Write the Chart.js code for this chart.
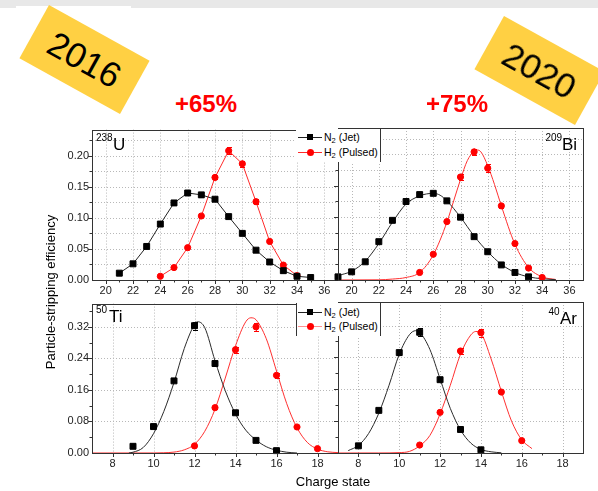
<!DOCTYPE html>
<html>
<head>
<meta charset="utf-8">
<script src="https://cdn.jsdelivr.net/npm/chart.js@4.4.1/dist/chart.umd.min.js"></script>
<style>
  html, body { margin: 0; padding: 0; background: #fff; }
  body { width: 598px; height: 491px; position: relative; overflow: hidden;
         font-family: "Liberation Sans", Arial, sans-serif; color: #000; }
  canvas { position: absolute; }
  .topband { position: absolute; left: 0; top: 0; width: 598px; height: 8px; background: #e8e8e8; }
  .notch { position: absolute; left: 16px; top: 6px; width: 115px; height: 3px; background: #fff; }
  .sticker { position: absolute; width: 115px; height: 61px; background: #ffd043;
             transform: rotate(29deg); display: flex; align-items: center; justify-content: center;
             font-size: 35px; line-height: 1; z-index: 5; }
  .gain { position: absolute; color: #ff0000; font-weight: bold; font-size: 24px; line-height: 1;
          transform: translateX(-50%); white-space: nowrap; }
  .mass { position: absolute; font-size: 10px; line-height: 1; z-index: 3; }
  .el { position: absolute; font-size: 17px; line-height: 1; z-index: 3; }
  .legend { position: absolute; background: #fff; z-index: 2; box-sizing: border-box; }
  .lrow { position: absolute; left: 0; width: 84px; height: 14px; }
  .lline { position: absolute; left: 2px; top: 7px; width: 24px; height: 1px; }
  .lsq { position: absolute; left: 11px; top: 4px; width: 6px; height: 6px; background: #000; }
  .ldot { position: absolute; left: 11px; top: 4px; width: 7px; height: 7px; border-radius: 50%; background: #ff0000; }
  .ltxt { position: absolute; left: 28px; top: 0; font-size: 10.5px; line-height: 14px; white-space: nowrap; }
  .ltxt sub { font-size: 7.5px; vertical-align: -2px; line-height: 0; }
  .axtitle { position: absolute; font-size: 13px; line-height: 1; white-space: nowrap; }
</style>
</head>
<body>
<div class="topband"></div>
<div class="notch"></div>

<canvas id="cU" width="345" height="182" style="left:0px;top:120px"></canvas>
<canvas id="cBi" width="268" height="182" style="left:330px;top:120px"></canvas>
<canvas id="cTi" width="345" height="181" style="left:0px;top:294px"></canvas>
<canvas id="cAr" width="268" height="181" style="left:330px;top:294px"></canvas>

<div class="sticker" style="left:26.5px;top:29px">2016</div>
<div class="sticker" style="left:482px;top:40px">2020</div>

<div class="gain" style="left:206px;top:92px">+65%</div>
<div class="gain" style="left:457px;top:92px">+75%</div>

<div class="mass" style="left:96px;top:133px">238</div><div class="el" style="left:113px;top:135.5px">U</div>
<div class="mass" style="left:545.5px;top:132.7px">209</div><div class="el" style="left:562px;top:135.5px">Bi</div>
<div class="mass" style="left:96px;top:305.4px">50</div><div class="el" style="left:109px;top:307.8px">Ti</div>
<div class="mass" style="left:548.5px;top:306.7px">40</div><div class="el" style="left:560px;top:309.5px">Ar</div>

<div class="legend" style="left:296px;top:129px;width:85px;height:33px;border-right:1px solid #333;">
  <div class="lrow" style="top:1px"><span class="lline" style="background:#222"></span><span class="lsq"></span><span class="ltxt">N<sub>2</sub> (Jet)</span></div>
  <div class="lrow" style="top:16px"><span class="lline" style="background:#ff2a2a"></span><span class="ldot"></span><span class="ltxt">H<sub>2</sub> (Pulsed)</span></div>
</div>
<div class="legend" style="left:296px;top:303px;width:85px;height:33px;border-left:1px solid #333;border-right:1px solid #333;">
  <div class="lrow" style="top:2px"><span class="lline" style="background:#222;left:1px"></span><span class="lsq" style="left:10px"></span><span class="ltxt" style="left:27px">N<sub>2</sub> (Jet)</span></div>
  <div class="lrow" style="top:16px"><span class="lline" style="background:#ff9090;left:1px"></span><span class="ldot" style="left:10px"></span><span class="ltxt" style="left:27px">H<sub>2</sub> (Pulsed)</span></div>
</div>

<div class="axtitle" style="left:50px;top:292px;transform:translate(-50%,-50%) rotate(-90deg);">Particle-stripping efficiency</div>
<div class="axtitle" style="left:333px;top:481px;transform:translate(-50%,-50%);">Charge state</div>

<script>
// ---- axis ticks ----
const xTicksTop = [20, 22, 24, 26, 28, 30, 32, 34, 36];
const xTicksBottom = [8, 10, 12, 14, 16, 18];
const yTicksTop = [0, 0.05, 0.10, 0.15, 0.20];
const yTicksBottom = [0, 0.08, 0.16, 0.24, 0.32];

// ---- 238U ----
const uJetCharge = [21, 22, 23, 24, 25, 26, 27, 28, 29, 30, 31, 32, 33, 34, 35];
const uJet       = [0.011, 0.026, 0.054, 0.090, 0.124, 0.140, 0.137, 0.130, 0.102, 0.075, 0.048, 0.029, 0.015, 0.006, 0.004];
const uJetErr    = [0, 0, 0, 0, 0.002, 0.004, 0.004, 0.002, 0, 0, 0, 0, 0, 0, 0];
const uPulsedCharge = [24, 25, 26, 27, 28, 29, 30, 31, 32, 33, 34];
const uPulsed       = [0.006, 0.020, 0.052, 0.103, 0.165, 0.208, 0.187, 0.126, 0.062, 0.024, 0.007];
const uPulsedErr    = [0, 0, 0, 0.002, 0.003, 0.006, 0.005, 0.004, 0, 0, 0];

// ---- 209Bi ----
const biJetCharge = [19, 20, 21, 22, 23, 24, 25, 26, 27, 28, 29, 30, 31, 32, 33];
const biJet       = [0.005, 0.013, 0.029, 0.061, 0.095, 0.125, 0.136, 0.138, 0.126, 0.100, 0.069, 0.045, 0.024, 0.012, 0.005];
const biJetErr    = [0, 0, 0, 0, 0, 0.004, 0.004, 0.003, 0.002, 0, 0, 0, 0, 0, 0];
const biPulsedCharge = [25, 26, 27, 28, 29, 30, 31, 32, 33, 34];
const biPulsed       = [0.012, 0.041, 0.093, 0.164, 0.204, 0.178, 0.118, 0.058, 0.019, 0.004];
const biPulsedErr    = [0, 0, 0, 0.004, 0.005, 0.006, 0.003, 0, 0, 0];
const biJetFitX = [19, 20, 21, 22, 23, 24, 25, 25.5, 26, 26.5, 27, 28, 29, 30, 31, 32, 33, 34, 35];
const biJetFitY = [0.007, 0.014, 0.030, 0.058, 0.092, 0.121, 0.134, 0.137, 0.138, 0.135, 0.126, 0.100, 0.070, 0.045, 0.025, 0.012, 0.005, 0.002, 0.0005];
const biPulsedFitX = [19, 22, 23, 24, 25, 26, 27, 27.5, 28, 28.5, 29, 29.2, 29.5, 30, 30.5, 31, 32, 33, 34, 35];
const biPulsedFitY = [0, 0.0003, 0.0015, 0.004, 0.012, 0.040, 0.092, 0.126, 0.160, 0.190, 0.205, 0.207, 0.204, 0.182, 0.152, 0.118, 0.057, 0.020, 0.005, 0.0008];

// ---- 50Ti ----
const tiJetCharge = [9, 10, 11, 12, 13, 14, 15, 16];
const tiJet       = [0.017, 0.067, 0.183, 0.323, 0.227, 0.102, 0.032, 0.006];
const tiJetErr    = [0, 0, 0.003, 0.010, 0.006, 0.003, 0, 0];
const tiPulsedCharge = [12, 13, 14, 15, 16, 17, 18];
const tiPulsed       = [0.018, 0.115, 0.262, 0.320, 0.197, 0.066, 0.011];
const tiPulsedErr    = [0, 0.003, 0.008, 0.010, 0.006, 0.002, 0];
const tiJetFitX = [8.8, 9, 9.5, 10, 10.5, 11, 11.5, 12, 12.15, 12.5, 13, 13.5, 14, 14.5, 15, 15.5, 16, 16.5, 17];
const tiJetFitY = [0, 0.002, 0.014, 0.049, 0.105, 0.179, 0.265, 0.326, 0.333, 0.318, 0.234, 0.158, 0.099, 0.058, 0.033, 0.016, 0.007, 0.002, 0];
const tiPulsedFitX = [7, 10, 10.5, 11, 11.5, 12, 12.5, 13, 13.5, 14, 14.5, 14.75, 15, 15.5, 16, 16.5, 17, 17.5, 18, 18.5, 19];
const tiPulsedFitY = [0, 0.0001, 0.0006, 0.0023, 0.008, 0.022, 0.055, 0.111, 0.190, 0.272, 0.333, 0.343, 0.338, 0.290, 0.208, 0.125, 0.064, 0.027, 0.010, 0.003, 0.001];

// ---- 40Ar ----
const arJetCharge = [8, 9, 10, 11, 12, 13, 14];
const arJet       = [0.018, 0.107, 0.252, 0.303, 0.184, 0.059, 0.008];
const arJetErr    = [0, 0.002, 0.006, 0.010, 0.004, 0.002, 0];
const arPulsedCharge = [11, 12, 13, 14, 15, 16];
const arPulsed       = [0.020, 0.102, 0.256, 0.302, 0.153, 0.031];
const arPulsedErr    = [0, 0.002, 0.007, 0.010, 0.003, 0.002];
const arJetFitX = [7.5, 8, 8.5, 9, 9.5, 10, 10.5, 10.8, 11, 11.5, 12, 12.5, 13, 13.5, 14, 14.5, 15];
const arJetFitY = [0.006, 0.019, 0.049, 0.100, 0.170, 0.248, 0.297, 0.307, 0.303, 0.260, 0.186, 0.112, 0.058, 0.025, 0.009, 0.003, 0.0005];
const arPulsedFitX = [7, 9, 10, 10.5, 11, 11.5, 12, 12.5, 13, 13.5, 13.75, 14, 14.5, 15, 15.5, 16, 16.5];
const arPulsedFitY = [0, 0.0001, 0.001, 0.004, 0.018, 0.044, 0.098, 0.170, 0.248, 0.296, 0.305, 0.300, 0.236, 0.155, 0.080, 0.033, 0.011];

const FONT = '"Liberation Sans", Arial, sans-serif';
const BLACK = '#000000';
const RED = '#ff0000';
const FIT_BLACK = '#2a2a2a';
const FIT_RED = '#ff3030';

const toXY = (xs, ys) => xs.map((x, i) => ({ x, y: ys[i] }));

function jetPoints(xs, ys, errs, joined) {
  return {
    data: toXY(xs, ys), errorBars: errs, showLine: joined,
    borderColor: joined ? '#222' : BLACK, borderWidth: 1,
    pointStyle: 'rect', pointRadius: 4.2, pointBorderWidth: 1,
    pointBackgroundColor: BLACK, pointBorderColor: BLACK,
    order: 0, clip: 8
  };
}
function pulsedPoints(xs, ys, errs, joined) {
  return {
    data: toXY(xs, ys), errorBars: errs, showLine: joined,
    borderColor: joined ? '#ff2a2a' : RED, borderWidth: 1,
    pointStyle: 'circle', pointRadius: 3.1, pointBorderWidth: 1,
    pointBackgroundColor: RED, pointBorderColor: RED,
    order: 0, clip: 8
  };
}
function fitCurve(xs, ys, color) {
  return {
    data: toXY(xs, ys), showLine: true, borderColor: color, borderWidth: 1,
    pointRadius: 0, cubicInterpolationMode: 'monotone', order: 1
  };
}

// grid, frame, minor/major tick marks and error bars, placed with the chart scales
const framePlugin = {
  id: 'frame',
  beforeDatasetsDraw(chart, args, o) {
    const { ctx, chartArea: a } = chart;
    const xs = chart.scales.x, ys = chart.scales.y;
    ctx.save();
    ctx.lineWidth = 1;
    ctx.setLineDash([1, 2]);
    ctx.strokeStyle = '#b8b8b8';
    ctx.beginPath();
    for (const v of o.xTicks) {
      const px = Math.round(xs.getPixelForValue(v)) + 0.5;
      ctx.moveTo(px, a.top); ctx.lineTo(px, a.bottom);
    }
    const step = o.yTicks[1] - o.yTicks[0];
    const yStep = o.minorGrid ? step / 2 : step;
    for (let k = 1; o.yTicks[0] + k * yStep < ys.max - 1e-9; k++) {
      const py = Math.round(ys.getPixelForValue(o.yTicks[0] + k * yStep)) + 0.5;
      ctx.moveTo(a.left, py); ctx.lineTo(a.right, py);
    }
    ctx.stroke();
    ctx.restore();
  },
  afterDatasetsDraw(chart) {
    const { ctx } = chart;
    const xs = chart.scales.x, ys = chart.scales.y;
    ctx.save();
    ctx.lineWidth = 1;
    chart.data.datasets.forEach(ds => {
      if (!ds.errorBars) return;
      ctx.strokeStyle = ds.pointBorderColor;
      ctx.beginPath();
      ds.data.forEach((p, i) => {
        const e = ds.errorBars[i];
        if (!e) return;
        const px = Math.round(xs.getPixelForValue(p.x)) + 0.5;
        const y1 = ys.getPixelForValue(p.y + e), y2 = ys.getPixelForValue(p.y - e);
        ctx.moveTo(px, y1); ctx.lineTo(px, y2);
        ctx.moveTo(px - 2.5, Math.round(y1) + 0.5); ctx.lineTo(px + 2.5, Math.round(y1) + 0.5);
        ctx.moveTo(px - 2.5, Math.round(y2) + 0.5); ctx.lineTo(px + 2.5, Math.round(y2) + 0.5);
      });
      ctx.stroke();
    });
    ctx.restore();
  },
  afterDraw(chart, args, o) {
    const { ctx, chartArea: a } = chart;
    const xs = chart.scales.x, ys = chart.scales.y;
    ctx.save();
    ctx.strokeStyle = '#333';
    ctx.lineWidth = 1;
    ctx.strokeRect(Math.round(a.left) + 0.5, Math.round(a.top) + 0.5,
                   Math.round(a.right - a.left), Math.round(a.bottom - a.top));
    ctx.beginPath();
    // x tick marks, pointing down
    const xs0 = o.xTicks[0], xStep = o.xTicks[1] - o.xTicks[0];
    for (let k = -4; xs0 + k * xStep / 2 < xs.max - 1e-9; k++) {
      const v = xs0 + k * xStep / 2;
      if (v <= xs.min + 1e-9) continue;
      const len = (k % 2 === 0) ? 4 : 2.5;
      const px = Math.round(xs.getPixelForValue(v)) + 0.5;
      ctx.moveTo(px, a.bottom); ctx.lineTo(px, a.bottom + len);
    }
    // y tick marks, pointing left
    const ys0 = o.yTicks[0], yStep = o.yTicks[1] - o.yTicks[0];
    for (let k = 1; ys0 + k * yStep / 2 < ys.max - 1e-9; k++) {
      const v = ys0 + k * yStep / 2;
      const len = (k % 2 === 0) ? 4 : 2.5;
      const py = Math.round(ys.getPixelForValue(v)) + 0.5;
      ctx.moveTo(a.left - len, py); ctx.lineTo(a.left, py);
    }
    ctx.stroke();
    ctx.restore();
  }
};

function panel(id, o) {
  return new Chart(document.getElementById(id), {
    type: 'scatter',
    data: { datasets: o.datasets },
    plugins: [framePlugin],
    options: {
      responsive: false, animation: false, devicePixelRatio: 1,
      layout: { padding: { left: 0, right: o.padRight, top: 8, bottom: 0 } },
      plugins: {
        legend: { display: false }, tooltip: { enabled: false },
        frame: { xTicks: o.xTicks, yTicks: o.yTicks, minorGrid: o.minorGrid }
      },
      scales: {
        x: {
          type: 'linear', min: o.xMin, max: o.xMax,
          afterBuildTicks: s => { s.ticks = o.xTicks.map(v => ({ value: v })); },
          afterFit: s => { s.height = 22; },
          grid: { display: false, drawTicks: false },
          border: { display: false },
          ticks: { color: '#222', padding: 4, maxRotation: 0, autoSkip: false,
                   font: { family: FONT, size: 11 }, callback: v => String(v) }
        },
        y: {
          type: 'linear', min: 0, max: o.yMax,
          afterBuildTicks: s => { s.ticks = o.yTicks.map(v => ({ value: v })); },
          afterFit: s => { s.width = o.yWidth; },
          grid: { display: false, drawTicks: false },
          border: { display: false },
          ticks: { display: o.yLabels, color: '#222', padding: 3,
                   font: { family: FONT, size: 11 }, callback: v => Number(v).toFixed(2) }
        }
      }
    }
  });
}

panel('cU', {
  xMin: 19, xMax: 37, xTicks: xTicksTop, yMax: 0.242, yTicks: yTicksTop, minorGrid: true,
  yLabels: true, yWidth: 92, padRight: 7,
  datasets: [
    jetPoints(uJetCharge, uJet, uJetErr, true),
    pulsedPoints(uPulsedCharge, uPulsed, uPulsedErr, true)
  ]
});

panel('cBi', {
  xMin: 19, xMax: 37, xTicks: xTicksTop, yMax: 0.242, yTicks: yTicksTop, minorGrid: true,
  yLabels: false, yWidth: 8, padRight: 15,
  datasets: [
    fitCurve(biJetFitX, biJetFitY, FIT_BLACK),
    fitCurve(biPulsedFitX, biPulsedFitY, FIT_RED),
    jetPoints(biJetCharge, biJet, biJetErr, false),
    pulsedPoints(biPulsedCharge, biPulsed, biPulsedErr, false)
  ]
});

panel('cTi', {
  xMin: 7, xMax: 19, xTicks: xTicksBottom, yMax: 0.379, yTicks: yTicksBottom, minorGrid: false,
  yLabels: true, yWidth: 92, padRight: 7,
  datasets: [
    fitCurve(tiJetFitX, tiJetFitY, FIT_BLACK),
    fitCurve(tiPulsedFitX, tiPulsedFitY, FIT_RED),
    jetPoints(tiJetCharge, tiJet, tiJetErr, false),
    pulsedPoints(tiPulsedCharge, tiPulsed, tiPulsedErr, false)
  ]
});

panel('cAr', {
  xMin: 7, xMax: 19, xTicks: xTicksBottom, yMax: 0.379, yTicks: yTicksBottom, minorGrid: false,
  yLabels: false, yWidth: 8, padRight: 15,
  datasets: [
    fitCurve(arJetFitX, arJetFitY, FIT_BLACK),
    fitCurve(arPulsedFitX, arPulsedFitY, FIT_RED),
    jetPoints(arJetCharge, arJet, arJetErr, false),
    pulsedPoints(arPulsedCharge, arPulsed, arPulsedErr, false)
  ]
});
</script>
</body>
</html>
